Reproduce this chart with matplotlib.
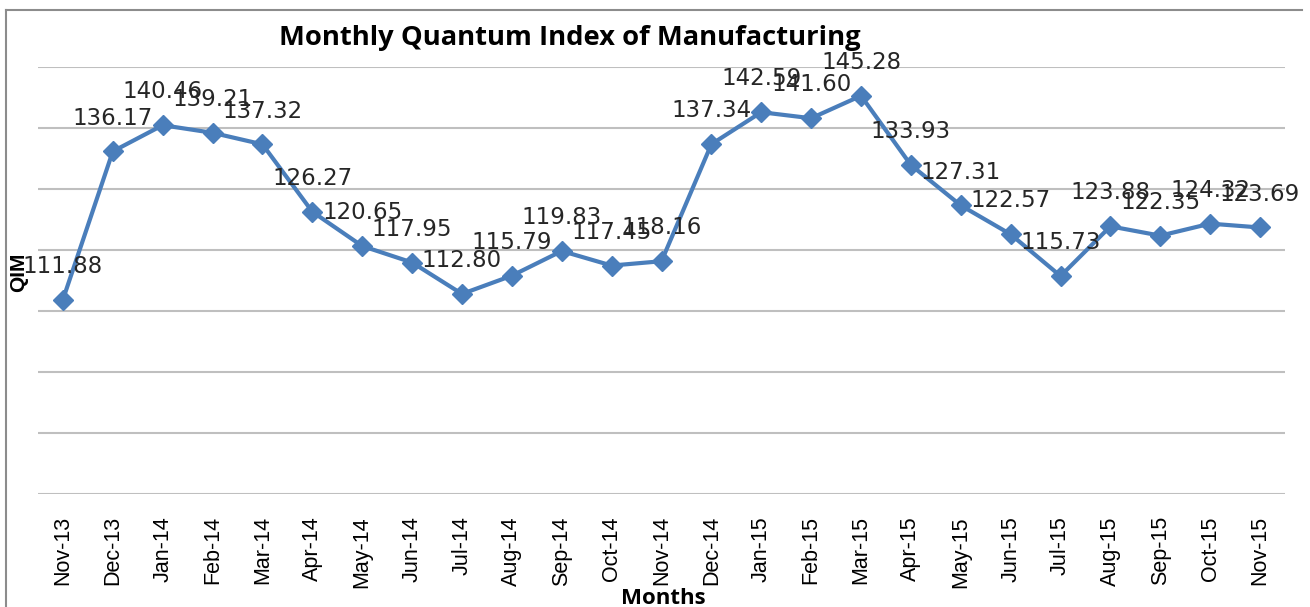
import numpy as np
import matplotlib.pyplot as plt
from matplotlib.lines import Line2D

months = ['Nov-13', 'Dec-13', 'Jan-14', 'Feb-14', 'Mar-14', 'Apr-14', 'May-14',
          'Jun-14', 'Jul-14', 'Aug-14', 'Sep-14', 'Oct-14', 'Nov-14', 'Dec-14',
          'Jan-15', 'Feb-15', 'Mar-15', 'Apr-15', 'May-15', 'Jun-15', 'Jul-15',
          'Aug-15', 'Sep-15', 'Oct-15', 'Nov-15']
qim = [111.88, 136.17, 140.46, 139.21, 137.32, 126.27, 120.65, 117.95, 112.80,
       115.79, 119.83, 117.45, 118.16, 137.34, 142.59, 141.60, 145.28, 133.93,
       127.31, 122.57, 115.73, 123.88, 122.35, 124.32, 123.69]
yticks = [80, 90, 100, 110, 120, 130, 140, 150]

W, H = 1310, 607
fig = plt.figure(figsize=(W / 100, H / 100), dpi=100)
ax = fig.add_axes([38 / W, 1 - 494 / H, (1285 - 38) / W, (494 - 67) / H])

x = np.arange(len(months))
ax.plot(x, qim, color='#4a7ebb', linewidth=3, marker='D', markersize=10,
        zorder=3, clip_on=False)

# data labels sit above each point, overlapping where the reference overlaps
for xi, v in zip(x, qim):
    ax.annotate(f'{v:.2f}', (xi, v), xytext=(0, 24), textcoords='offset points',
                ha='center', va='center', fontsize=16.5, color='#262626',
                family='DejaVu Sans', zorder=4)

ax.set_xlim(-0.5, len(months) - 0.5)
ax.set_ylim(80, 150)
ax.set_yticks(yticks)
ax.yaxis.grid(True, color='#bfbfbf', linewidth=1.5)
ax.set_axisbelow(True)
ax.set_yticklabels([])
ax.tick_params(axis='y', length=0)
ax.set_xticks(x)
ax.set_xticklabels(months, rotation=90, fontsize=15.5, family='Liberation Sans')
ax.tick_params(axis='x', length=0, pad=16)
for s in ax.spines.values():
    s.set_visible(False)

ax.set_ylabel('QIM', fontsize=15, fontweight='bold', family='Liberation Sans')
ax.yaxis.set_label_coords((28 - 38) / 1247, 0.52)

fig.text(570 / W, 1 - 38 / H, 'Monthly Quantum Index of Manufacturing',
         ha='center', va='center', fontsize=19.7, fontweight='bold',
         family='Open Sans')
fig.text(663 / W, 1 - 598 / H, 'Months', ha='center', va='center',
         fontsize=16, fontweight='bold', family='Open Sans')

# chart border (left and top edges visible in the crop)
fig.add_artist(Line2D([6 / W, 6 / W], [0, 1 - 10 / H], color='#8c8c8c', linewidth=1.5))
fig.add_artist(Line2D([6 / W, 1302 / W], [1 - 10 / H, 1 - 10 / H], color='#8c8c8c', linewidth=1.5))

fig.savefig('out.png', dpi=100)
